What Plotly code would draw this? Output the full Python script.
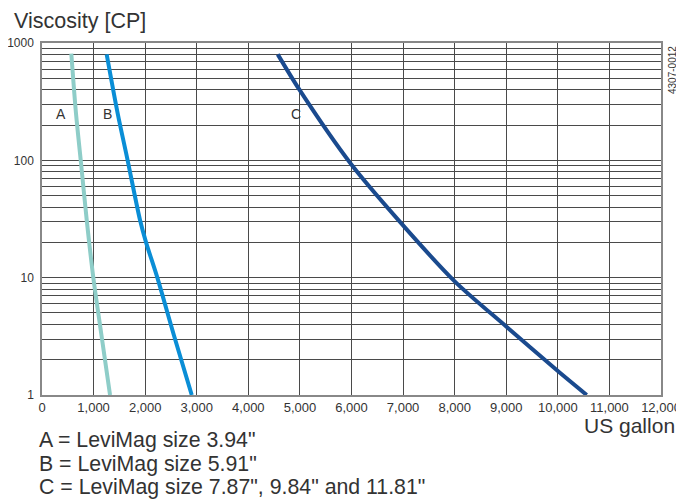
import math
import plotly.graph_objects as go

# Data
a_x = [568, 659, 751, 867, 995, 1150, 1319]
a_y = [812, 251, 100, 31, 10, 3.3, 1]
b_x = [1254, 1468, 1660, 1900, 2017, 2236, 2560, 2903]
b_y = [800, 250, 100, 31, 20, 10, 3.2, 1]
c_x = [4570, 4990, 5990, 6880, 8000, 9010, 10000, 10560]
c_y = [800, 400, 93, 32, 9.3, 3.8, 1.6, 1]

x_ticks = [0, 1000, 2000, 3000, 4000, 5000, 6000, 7000, 8000, 9000, 10000, 11000, 12000]
x_tick_labels = ["0", "1,000", "2,000", "3,000", "4,000", "5,000", "6,000", "7,000",
                 "8,000", "9,000", "10,000", "11,000", "12,000"]
y_ticks = [1, 2, 3, 4, 5, 6, 7, 8, 9,
           10, 20, 30, 40, 50, 60, 70, 80, 90,
           100, 200, 300, 400, 500, 600, 700, 800, 900, 1000]
y_tick_labels = ["1" if v == 1 else "10" if v == 10 else "100" if v == 100 else "1000" if v == 1000 else ""
                 for v in y_ticks]

curve_labels = ["A", "B", "C"]
curve_label_x = [368, 1260, 4925]
curve_label_y = [250, 250, 250]

legend_lines = ['A = LeviMag size 3.94"', 'B = LeviMag size 5.91"',
                'C = LeviMag size 7.87", 9.84" and 11.81"']

FONT = "Liberation Sans, Arial, sans-serif"
TXT = "#333333"

fig = go.Figure()
for xs, ys, col in [(a_x, a_y, "#8ecdc8"), (b_x, b_y, "#0a8ed6"), (c_x, c_y, "#1a4a8e")]:
    fig.add_trace(go.Scatter(x=xs, y=ys, mode="lines",
                             line=dict(color=col, width=4, shape="spline", smoothing=0.8),
                             showlegend=False, hoverinfo="skip"))

OFF = 8  # page body margin
W, H = 684 - OFF, 502 - OFF
L, T = 42 - OFF, 43 - OFF
R = W - (661 - OFF)
B = H - (395 - OFF)
pw, ph = W - L - R, H - T - B

def px(xp):
    return (xp - OFF - L) / pw

def py(yp):
    return (H - B - (yp - OFF)) / ph

annotations = []
for lab, lx, ly in zip(curve_labels, curve_label_x, curve_label_y):
    annotations.append(dict(x=lx, y=math.log10(ly), xref="x", yref="y", yanchor="middle", text=lab,
                            showarrow=False, font=dict(size=14, color=TXT, family=FONT),
                            xanchor="center"))
annotations.append(dict(x=px(13), y=py(8), xref="paper", yref="paper", text="Viscosity [CP]",
                        showarrow=False, xanchor="left", yanchor="top", borderpad=0,
                        font=dict(size=21.5, color=TXT, family=FONT)))
annotations.append(dict(x=px(677), y=py(425), xref="paper", yref="paper", text="US gallon",
                        showarrow=False, xanchor="right", yanchor="middle",
                        font=dict(size=21, color=TXT, family=FONT)))
annotations.append(dict(x=px(673), y=py(70), xref="paper", yref="paper", text="4307-0012",
                        showarrow=False, xanchor="center", yanchor="middle", textangle=-90,
                        font=dict(size=10, color=TXT, family=FONT)))
for i, t in enumerate(legend_lines):
    annotations.append(dict(x=px(37), y=py(440 + 23.5 * i), xref="paper", yref="paper", text=t,
                            showarrow=False, xanchor="left", yanchor="middle",
                            font=dict(size=21.3, color=TXT, family=FONT)))

fig.update_layout(
    width=W, height=H,
    margin=dict(l=L, r=R, t=T, b=B, pad=0, autoexpand=False),
    paper_bgcolor="white", plot_bgcolor="white",
    font=dict(family=FONT, color=TXT, size=13),
    annotations=annotations,
    xaxis=dict(range=[0, 12000], tickvals=x_ticks, ticktext=x_tick_labels,
               showgrid=True, gridcolor="#4a4a4a", gridwidth=1, automargin=False,
               showline=True, linecolor="#888888", linewidth=1.5, mirror=True,
               zeroline=False, ticks="", tickfont=dict(size=13, color=TXT)),
    yaxis=dict(type="log", range=[0, 3], tickvals=y_ticks, ticktext=y_tick_labels,
               showgrid=True, gridcolor="#4a4a4a", gridwidth=1, automargin=False,
               showline=True, linecolor="#888888", linewidth=1.5, mirror=True,
               zeroline=False, ticks="", tickfont=dict(size=12, color=TXT), ticklabelstandoff=4),
)

fig.write_html("out.html")
